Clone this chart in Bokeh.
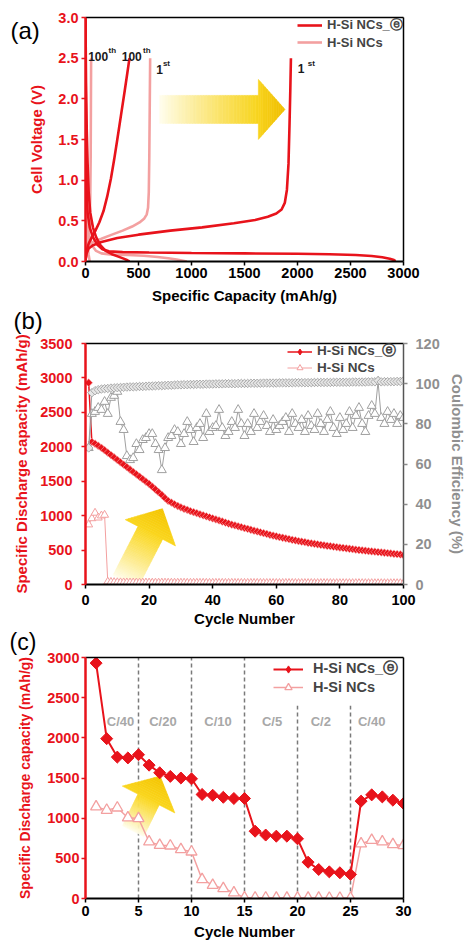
import numpy as np
from bokeh.plotting import figure
from bokeh.models import (Range1d, LinearAxis, FixedTicker, Legend, LegendItem, Label,
                          CustomJSTickFormatter)
from bokeh.layouts import column
from bokeh.embed import file_html
from bokeh.resources import INLINE
from bokeh.core.properties import value

FONT = "Liberation Sans"
RED = "#e8131b"
PINK = "#f3a0a0"
GRAY = "#a0a0a0"
RATE_GRAY = "#a8a8a8"

# ---------------- (a) voltage profiles ----------------
red_1st_dis_cap = [0, 2, 5, 10, 20, 40, 70, 110, 160, 220, 350, 600, 1000, 1500, 2000, 2300, 2550, 2700, 2800, 2870, 2910, 2925]
red_1st_dis_v = [3.0, 2.0, 1.3, 0.9, 0.6, 0.42, 0.3, 0.21, 0.15, 0.125, 0.115, 0.11, 0.105, 0.1, 0.095, 0.09, 0.08, 0.068, 0.052, 0.035, 0.018, 0.005]
red_1st_chg_cap = [0, 10, 30, 70, 150, 300, 500, 800, 1100, 1400, 1600, 1720, 1800, 1850, 1880, 1900, 1915, 1925, 1932, 1938]
red_1st_chg_v = [0.01, 0.1, 0.16, 0.2, 0.24, 0.29, 0.33, 0.38, 0.42, 0.47, 0.51, 0.55, 0.59, 0.64, 0.72, 0.88, 1.2, 1.7, 2.1, 2.5]
red_100_dis_cap = [0, 5, 12, 20, 30, 45, 70, 100, 140, 190, 250, 310, 360, 395, 415]
red_100_dis_v = [3.0, 2.2, 1.6, 1.2, 0.85, 0.6, 0.42, 0.3, 0.2, 0.13, 0.09, 0.06, 0.035, 0.015, 0.0]
red_100_chg_cap = [0, 10, 30, 60, 90, 130, 170, 205, 240, 270, 300, 335, 370, 395, 415]
red_100_chg_v = [0.02, 0.13, 0.22, 0.3, 0.37, 0.48, 0.62, 0.8, 1.02, 1.25, 1.5, 1.8, 2.1, 2.32, 2.5]
pink_1st_dis_cap = [0, 3, 8, 15, 30, 60, 100, 150, 250, 400, 550, 680, 780, 860, 920, 955]
pink_1st_dis_v = [3.0, 1.8, 1.0, 0.6, 0.35, 0.2, 0.13, 0.1, 0.085, 0.08, 0.07, 0.055, 0.04, 0.025, 0.01, 0.0]
pink_1st_chg_cap = [0, 10, 30, 80, 150, 250, 350, 440, 510, 555, 578, 590, 597, 602, 606, 610]
pink_1st_chg_v = [0.01, 0.12, 0.2, 0.25, 0.28, 0.33, 0.38, 0.43, 0.48, 0.53, 0.58, 0.66, 0.85, 1.3, 1.9, 2.5]
pink_100_dis_cap = [0, 5, 12, 20, 30, 40]
pink_100_dis_v = [3.0, 1.2, 0.5, 0.2, 0.08, 0.0]
pink_100_chg_cap = [0, 10, 25, 38, 45, 49, 51, 53]
pink_100_chg_v = [0.02, 0.12, 0.25, 0.45, 0.8, 1.3, 1.9, 2.5]

a_x_ticks = [0, 500, 1000, 1500, 2000, 2500, 3000]
a_y_ticks = [0.0, 0.5, 1.0, 1.5, 2.0, 2.5, 3.0]
note_main = ["100", "100", "1", "1"]
note_sup = ["th", "th", "st", "st"]

# ---------------- (b) cycling ----------------
b_cycles = list(range(1, 101))
b_red_cap = [2930, 2070, 2045, 2015, 1985, 1950, 1915, 1880, 1845, 1810,
             1775, 1740, 1705, 1670, 1635, 1600, 1565, 1530, 1495, 1460,
             1420, 1380, 1340, 1300, 1255, 1215, 1190, 1165, 1140, 1120,
             1100, 1085, 1065, 1050, 1035, 1020, 1005, 990, 975, 960,
             945, 930, 915, 900, 885, 870, 858, 845, 832, 820,
             808, 795, 782, 770, 758, 746, 734, 722, 711, 700,
             689, 679, 669, 659, 649, 640, 631, 622, 614, 606,
             598, 590, 583, 576, 569, 562, 556, 549, 543, 537,
             531, 525, 519, 513, 507, 501, 496, 491, 486, 481,
             476, 471, 466, 461, 456, 451, 446, 441, 436, 425]
b_pink_cap = [870, 960, 1040, 970, 1000, 1010, 40, 35, 32, 30,
              29, 28, 28, 27, 27, 27, 26, 26, 26, 26,
              25, 25, 25, 25, 25, 24, 24, 24, 24, 24,
              24, 23, 23, 23, 23, 23, 23, 23, 22, 22,
              22, 22, 22, 22, 22, 22, 21, 21, 21, 21,
              21, 21, 21, 21, 21, 20, 20, 20, 20, 20,
              20, 20, 20, 20, 20, 20, 19, 19, 19, 19,
              19, 19, 19, 19, 19, 19, 19, 18, 18, 18,
              18, 18, 18, 18, 18, 18, 18, 18, 18, 18,
              17, 17, 17, 17, 17, 17, 17, 17, 17, 17]
b_red_ce = [68, 95.5, 96.5, 97, 97.3, 97.5, 97.6, 97.8, 97.9, 98,
            98.1, 98.2, 98.3, 98.4, 98.4, 98.5, 98.6, 98.6, 98.7, 98.8,
            98.8, 98.9, 99, 99, 99.1, 99.2, 99.2, 99.3, 99.4, 99.4,
            99.5, 99.5, 99.6, 99.6, 99.7, 99.7, 99.7, 99.8, 99.8, 99.8,
            99.9, 99.9, 99.9, 100, 100, 100, 100, 100.1, 100.1, 100.1,
            100.1, 100.2, 100.2, 100.2, 100.2, 100.3, 100.3, 100.3, 100.3, 100.3,
            100.4, 100.4, 100.4, 100.4, 100.4, 100.5, 100.5, 100.5, 100.5, 100.5,
            100.5, 100.6, 100.6, 100.6, 100.6, 100.6, 100.6, 100.7, 100.7, 100.7,
            100.7, 100.7, 100.7, 100.8, 100.8, 100.8, 100.8, 100.8, 100.9, 100.9,
            100.9, 101.5, 100.9, 101, 101, 101, 101, 101.1, 101.1, 101.5]
b_pink_ce = [68, 85, 86, 88, 87, 91, 85, 93, 94, 96,
             81, 77, 64, 62, 63, 70, 67, 72, 73, 75,
             75, 70, 67, 57, 68, 73, 74, 77, 76, 70,
             75, 81, 77, 71, 78, 80, 73, 85, 76, 78,
             79, 87, 78, 74, 76, 81, 78, 87, 80, 74,
             80, 76, 85, 78, 81, 84, 79, 76, 82, 77,
             79, 81, 83, 76, 85, 80, 78, 82, 76, 84,
             79, 77, 85, 80, 76, 82, 86, 78, 75, 83,
             77, 80, 86, 78, 84, 88, 80, 76, 84, 89,
             85, 101, 83, 80, 86, 82, 85, 80, 84, 83]
b_x_ticks = [0, 20, 40, 60, 80, 100]
b_y_ticks = [0, 500, 1000, 1500, 2000, 2500, 3000, 3500]
b_ce_ticks = [0, 20, 40, 60, 80, 100, 120]

# ---------------- (c) rate capability ----------------
c_cycles = list(range(1, 31))
c_red_cap = [2930, 1990, 1760, 1750, 1790, 1660, 1565, 1520, 1500, 1490,
             1295, 1285, 1260, 1245, 1245, 838, 790, 776, 776, 743,
             452, 361, 332, 320, 300, 1212, 1290, 1265, 1224, 1183]
c_pink_cap = [1142, 1100, 1129, 1005, 996, 706, 664, 656, 610, 581,
              237, 166, 125, 71, 10, 8, 8, 7, 7, 6,
              6, 6, 5, 5, 5, 681, 726, 706, 672, 660]
rate_labels = ["C/40", "C/20", "C/10", "C/5", "C/2", "C/40"]
rate_label_x = [3.3, 7.3, 12.5, 17.6, 22.2, 27.0]
rate_change_cycles = [5, 10, 15, 20, 25]
rate_line_top = [3000, 3000, 3000, 2400, 2400]
c_x_ticks = [0, 5, 10, 15, 20, 25, 30]
c_y_ticks = [0, 500, 1000, 1500, 2000, 2500, 3000]

LEG1 = "H-Si NCs_\u24d4"
LEG2 = "H-Si NCs"
TICK_FS = "14.5px"
TITLE_FS = "15px"


def base_fig(h, xr, yr, bl, br, bt, bb):
    p = figure(width=468, height=h, x_range=xr, y_range=yr, output_backend="svg",
               toolbar_location=None, min_border_left=bl, min_border_right=br,
               min_border_top=bt, min_border_bottom=bb)
    p.xgrid.visible = False
    p.ygrid.visible = False
    p.outline_line_color = None
    p.background_fill_color = "white"
    p.border_fill_color = "white"
    return p


def style_axis(ax, color, line_color, line_width, ticks, tick_out, lab_standoff,
               title, title_standoff, label_color, title_color, title_fs=TITLE_FS):
    ax.ticker = FixedTicker(ticks=ticks)
    ax.axis_line_color = line_color
    ax.axis_line_width = line_width
    ax.major_tick_line_color = color
    ax.major_tick_line_width = 1.5
    ax.major_tick_out = tick_out
    ax.major_tick_in = 0
    ax.minor_tick_line_color = None
    ax.major_label_standoff = lab_standoff
    ax.major_label_text_font = FONT
    ax.major_label_text_font_style = "bold"
    ax.major_label_text_font_size = TICK_FS
    ax.major_label_text_color = label_color
    ax.axis_label = title
    ax.axis_label_standoff = title_standoff
    ax.axis_label_text_font = FONT
    ax.axis_label_text_font_style = "bold"
    ax.axis_label_text_font_size = title_fs
    ax.axis_label_text_color = title_color


def frame_axis(p, place):
    ax = LinearAxis(ticker=FixedTicker(ticks=[]), major_tick_out=0, major_tick_in=0,
                    minor_tick_out=0, minor_tick_in=0, axis_line_color="black",
                    axis_line_width=1.5, major_label_text_font_size="0px")
    p.add_layout(ax, place)


def lerp_col(c0, c1, t):
    return "#%02x%02x%02x" % tuple(int(round(a + (b - a) * t)) for a, b in zip(c0, c1))


def arrow(p, S, B, T, w, h, c0, c1, c2, n=36, m=12):
    xs, ys, cols = [], [], []
    for i in range(n):
        t0, t1 = i / n, (i + 1) / n
        a = (S[0] + (B[0] - S[0]) * t0, S[1] + (B[1] - S[1]) * t0)
        b = (S[0] + (B[0] - S[0]) * t1, S[1] + (B[1] - S[1]) * t1)
        xs.append([a[0] + w[0], b[0] + w[0], b[0] - w[0], a[0] - w[0]])
        ys.append([a[1] + w[1], b[1] + w[1], b[1] - w[1], a[1] - w[1]])
        cols.append(lerp_col(c0, c1, ((t0 + t1) / 2) ** 0.9))
    for j in range(m):
        u0, u1 = j / m, (j + 1) / m
        a = (B[0] + (T[0] - B[0]) * u0, B[1] + (T[1] - B[1]) * u0)
        b = (B[0] + (T[0] - B[0]) * u1, B[1] + (T[1] - B[1]) * u1)
        k0, k1 = 1 - u0, 1 - u1
        xs.append([a[0] + h[0] * k0, b[0] + h[0] * k1, b[0] - h[0] * k1, a[0] - h[0] * k0])
        ys.append([a[1] + h[1] * k0, b[1] + h[1] * k1, b[1] - h[1] * k1, a[1] - h[1] * k0])
        cols.append(lerp_col(c1, c2, (u0 + u1) / 2))
    p.patches(xs, ys, fill_color=cols, line_color=cols, line_width=0.6)


def panel_label(p, text, x, y, place, size="24px"):
    p.add_layout(Label(x=x, y=y, x_units="screen", y_units="screen", text=text,
                       text_font=FONT, text_font_size=size, text_baseline="middle",
                       text_color="black"), place)


def make_legend(items, loc, gw, gh, lh, standoff, fsize):
    return Legend(items=items, location=loc, padding=0, margin=0, spacing=0,
                  glyph_width=gw, glyph_height=gh, label_height=lh, label_standoff=standoff,
                  label_text_font=FONT, label_text_font_style="bold",
                  label_text_font_size=fsize, border_line_alpha=0,
                  background_fill_alpha=0, inactive_fill_alpha=0)


# ======================= (a) =======================
fa = base_fig(308, Range1d(0, 3000), Range1d(0, 3), 85, 61, 17, 47)
style_axis(fa.xaxis[0], "black", "black", 2, a_x_ticks, 4, 2,
           "Specific Capacity (mAh/g)", 6, "black", "black")
style_axis(fa.yaxis[0], RED, RED, 2.5, a_y_ticks, 4, 3,
           "Cell Voltage (V)", 10, RED, RED)
fa.yaxis[0].formatter = CustomJSTickFormatter(code="return tick.toFixed(1)")
frame_axis(fa, "above")
frame_axis(fa, "right")

arrow(fa, (700, 1.87), (1631, 1.87), (1882, 1.87), (0, 0.172), (0, 0.369),
      (255, 254, 240), (248, 212, 30), (240, 190, 0))

lw = 2.6
rp = []
for cx, vy in [(pink_1st_dis_cap, pink_1st_dis_v), (pink_1st_chg_cap, pink_1st_chg_v),
               (pink_100_dis_cap, pink_100_dis_v), (pink_100_chg_cap, pink_100_chg_v)]:
    rp.append(fa.line(cx, vy, line_color=PINK, line_width=lw))
rr = []
for cx, vy in [(red_1st_dis_cap, red_1st_dis_v), (red_1st_chg_cap, red_1st_chg_v),
               (red_100_dis_cap, red_100_dis_v), (red_100_chg_cap, red_100_chg_v)]:
    rr.append(fa.line(cx, vy, line_color=RED, line_width=lw))

fa.text(x=[25, 342, 668, 2003], y=[2.52, 2.52, 2.36, 2.37], text=note_main,
        text_font=value(FONT), text_font_style="bold", text_font_size="12px",
        text_baseline="alphabetic", text_align="left", text_color="#1a1a1a")
fa.text(x=[217, 543, 730, 2096], y=[2.60, 2.60, 2.43, 2.43], text=note_sup,
        text_font=value(FONT), text_font_style="bold", text_font_size="8px",
        text_baseline="alphabetic", text_align="left", text_color="#1a1a1a")

fa.add_layout(make_legend([LegendItem(label=LEG1, renderers=[rr[0]]),
                           LegendItem(label=LEG2, renderers=[rp[0]])],
                          (212, 211), 25, 16, 16, 5, "13px"))
panel_label(fa, "(a)", -393, 231, "right")

# ======================= (b) =======================
fb = base_fig(322, Range1d(0, 100), Range1d(0, 3500), 85, 60, 35, 46)
fb.extra_y_ranges = {"ce": Range1d(0, 120)}
style_axis(fb.xaxis[0], "black", "black", 2, b_x_ticks, 4, 6,
           "Cycle Number", 2, "black", "black")
style_axis(fb.yaxis[0], RED, RED, 2.5, b_y_ticks, 4, 9,
           "Specific Discharge capacity (mAh/g)", 7, RED, RED)
ce_axis = LinearAxis(y_range_name="ce")
style_axis(ce_axis, "#8a8a8a", "#555555", 1.5, b_ce_ticks, 4, 8,
           "Coulombic Efficiency (%)", 6, "#8f8f8f", "#8f8f8f")
fb.add_layout(ce_axis, "right")
frame_axis(fb, "above")

arrow(fb, (12.5, 40.6), (20.4, 750.7), (24.2, 1101), (3.87, -93), (7.9, -191),
      (255, 254, 240), (250, 214, 30), (244, 196, 0))

bl_pink = fb.line(b_cycles, b_pink_cap, line_color=PINK, line_width=1)
bp_sc = fb.scatter(b_cycles, b_pink_cap, marker="triangle", size=8, fill_color="white",
                   line_color=PINK, line_width=1)
bl_red = fb.line(b_cycles, b_red_cap, line_color=RED, line_width=1.5)
fb.scatter(b_cycles, b_red_cap, marker="square", angle=np.pi / 4, size=5.5,
           fill_color=RED, line_color="#f7b0b0", line_width=0.6)
fb.line(b_cycles, b_pink_ce, y_range_name="ce", line_color=GRAY, line_width=1)
fb.scatter(b_cycles, b_pink_ce, y_range_name="ce", marker="triangle", size=9,
           fill_color="white", line_color=GRAY, line_width=1)
fb.line(b_cycles, b_red_ce, y_range_name="ce", line_color=GRAY, line_width=1)
fb.scatter(b_cycles, b_red_ce, y_range_name="ce", marker="square", angle=np.pi / 4,
           size=6, fill_color="#e6e6e6", line_color="#9a9a9a", line_width=0.8)
br_key = fb.scatter(b_cycles, b_red_cap, marker="diamond", size=8, fill_color=RED,
                    line_color=RED, visible=False)

fb.add_layout(make_legend([LegendItem(label=LEG1, renderers=[bl_red, br_key]),
                           LegendItem(label=LEG2, renderers=[bl_pink, bp_sc])],
                          (202, 209), 25, 15, 15, 5, "13.5px"))
panel_label(fb, "(b)", -72, 23, "above")

# ======================= (c) =======================
fc = base_fig(313, Range1d(0, 30), Range1d(0, 3000), 84, 60, 27, 45)
style_axis(fc.xaxis[0], "black", "black", 2, c_x_ticks, 4, 3,
           "Cycle Number", 4, "black", "black")
style_axis(fc.yaxis[0], RED, RED, 2.5, c_y_ticks, 4, 2,
           "Specific Discharge capacity (mAh/g)", 11, RED, RED, "14px")
frame_axis(fc, "above")
frame_axis(fc, "right")

fc.segment(x0=rate_change_cycles, y0=[0] * 5, x1=rate_change_cycles, y1=rate_line_top,
           line_color="#7a7a7a", line_width=1.5, line_dash="4 3")
fc.text(x=rate_label_x, y=[2200] * 6, text=rate_labels, text_font=value(FONT),
        text_font_style="bold", text_font_size="13px", text_align="center",
        text_baseline="middle", text_color=RATE_GRAY)

arrow(fc, (4.49, 838), (5.95, 1232), (7.04, 1523), (1.0, -67), (2.48, -167),
      (255, 254, 240), (250, 214, 30), (244, 196, 0))

cl_p = fc.line(c_cycles, c_pink_cap, line_color=PINK, line_width=1.5)
cs_p = fc.scatter(c_cycles, c_pink_cap, marker="triangle", size=11, fill_color="white",
                  line_color=PINK, line_width=1.3)
cl_r = fc.line(c_cycles, c_red_cap, line_color=RED, line_width=2)
fc.scatter(c_cycles, c_red_cap, marker="square", angle=np.pi / 4, size=8.5,
           fill_color=RED, line_color=RED, line_width=1)
cr_key = fc.scatter(c_cycles, c_red_cap, marker="diamond", size=12, fill_color=RED,
                    line_color=RED, visible=False)

fc.add_layout(make_legend([LegendItem(label=LEG1, renderers=[cl_r, cr_key]),
                           LegendItem(label=LEG2, renderers=[cl_p, cs_p])],
                          (188, 202), 30, 18, 18, 10, "14.5px"))
panel_label(fc, "(c)", -394, 257, "right", "23px")

p = column(fa, fb, fc, spacing=0)
open("out.html", "w").write(file_html(p, INLINE))
